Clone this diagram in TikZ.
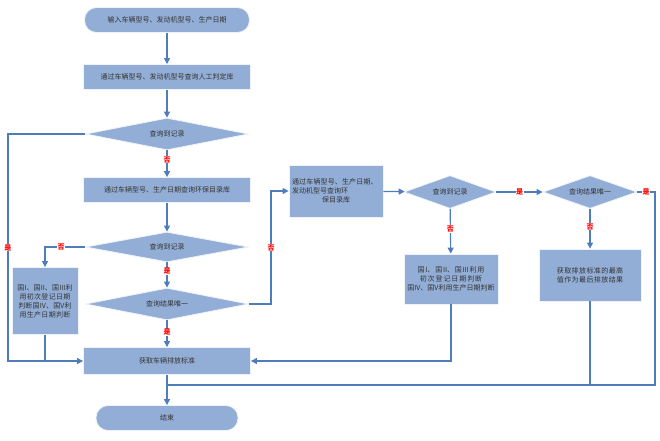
\documentclass[tikz,border=0pt]{standalone}
\usepackage{fontspec}
\setmainfont{Noto Sans CJK SC}
\XeTeXlinebreaklocale "zh"
\XeTeXlinebreakskip=0pt plus 1pt
\usetikzlibrary{shapes.geometric,arrows.meta}
\definecolor{fillc}{HTML}{93AED6}
\definecolor{linec}{HTML}{4F7DBB}
\begin{document}
\begin{tikzpicture}[x=1pt,y=-1pt,
  every node/.style={font=\fontsize{7}{9}\selectfont,text=black!80},
  box/.style={draw=white!85!fillc,fill=fillc,line width=0.8pt,align=center,inner sep=1pt},
  pill/.style={box,rounded corners=12pt},
  dia/.style={diamond,box,aspect=5},
  ln/.style={draw=linec,line width=1.2pt},
  ar/.style={ln,-{Triangle[length=6pt,width=6pt]}},
  lab/.style={text=red,font=\fontsize{7}{8}\selectfont\bfseries,fill=white,inner sep=0.5pt}]
\useasboundingbox (0,0) rectangle (660,440);
\node[pill,minimum width=165pt,minimum height=25pt] (s) at (167,20) {输入车辆型号、发动机型号、生产日期};
\node[box,minimum width=167pt,minimum height=25pt] (b1) at (167,77) {通过车辆型号、发动机型号查询人工判定库};
\node[dia,minimum width=163pt,minimum height=32pt,inner sep=0pt] (d1) at (167,134) {查询到记录};
\node[box,minimum width=167pt,minimum height=25pt] (b2) at (167,190) {通过车辆型号、生产日期查询环保目录库};
\node[dia,minimum width=163pt,minimum height=30pt,inner sep=0pt] (d2) at (167,247) {查询到记录};
\node[box,minimum width=66pt,minimum height=67pt,text width=60pt] (lb) at (45,301) {国I、国II、国III利用初次登记日期判断国IV、国V利用生产日期判断};
\node[dia,minimum width=163pt,minimum height=32pt,inner sep=0pt] (d3) at (167,304) {查询结果唯一};
\node[box,minimum width=167pt,minimum height=27pt] (g) at (167,361) {获取车辆排放标准};
\node[pill,minimum width=142pt,minimum height=25pt] (e) at (167,418) {结束};
\node[box,minimum width=94pt,minimum height=52pt,text width=88pt,align=left] (b3) at (336,191) {通过车辆型号、生产日期、发动机型号查询环\\\hfil 保目录库\hfil};
\node[dia,minimum width=92pt,minimum height=33pt,inner sep=0pt] (d4) at (450,192) {查询到记录};
\node[box,minimum width=94pt,minimum height=50pt,text width=88pt] (b4) at (451,279) {国I、国II、国III利用初次登记日期判断\\国IV、国V利用生产日期判断};
\node[dia,minimum width=94pt,minimum height=33pt,inner sep=0pt] (d5) at (590,192) {查询结果唯一};
\node[box,minimum width=102pt,minimum height=52pt,text width=78pt] (b5) at (590,275) {获取排放标准的最高值作为最后排放结果};
\coordinate (j) at (167,385);
\draw[ar] (s) -- (b1);
\draw[ar] (b1) -- (d1);
\draw[ar] (d1) -- node[lab,pos=0.35]{否} (b2);
\draw[ar] (b2) -- (d2);
\draw[ar] (d2) -- node[lab,pos=0.35]{是} (d3);
\draw[ar] (d3) -- node[lab,pos=0.45]{是} (g);
\draw[ar] (d1.west) -- (8,134) -- node[lab,pos=0.5]{是} (8,361) -- (g.west);
\draw[ar] (d2.west) -- node[lab,pos=0.6]{否} (45,247) -- (lb.north);
\draw[ln] (lb.south) -- (45,361);
\draw[ar] (d3.east) -- (271,304) -- node[lab,pos=0.5]{否} (271,191) -- (b3.west);
\draw[ar] (b3) -- (d4);
\draw[ar] (d4) -- node[lab]{是} (d5);
\draw[ar] (d4) -- node[lab,pos=0.45]{否} (b4);
\draw[ar] (d5) -- node[lab,pos=0.45]{否} (b5);
\draw[ar] (b4.south) -- (451,361) -- (g.east);
\draw[ln] (b5.south) -- (590,385);
\draw[ln] (d5.east) -- node[lab,pos=0.5]{是} (655,192) -- (655,385) -- (j);
\draw[ar] (g) -- (e);
\end{tikzpicture}
\end{document}
